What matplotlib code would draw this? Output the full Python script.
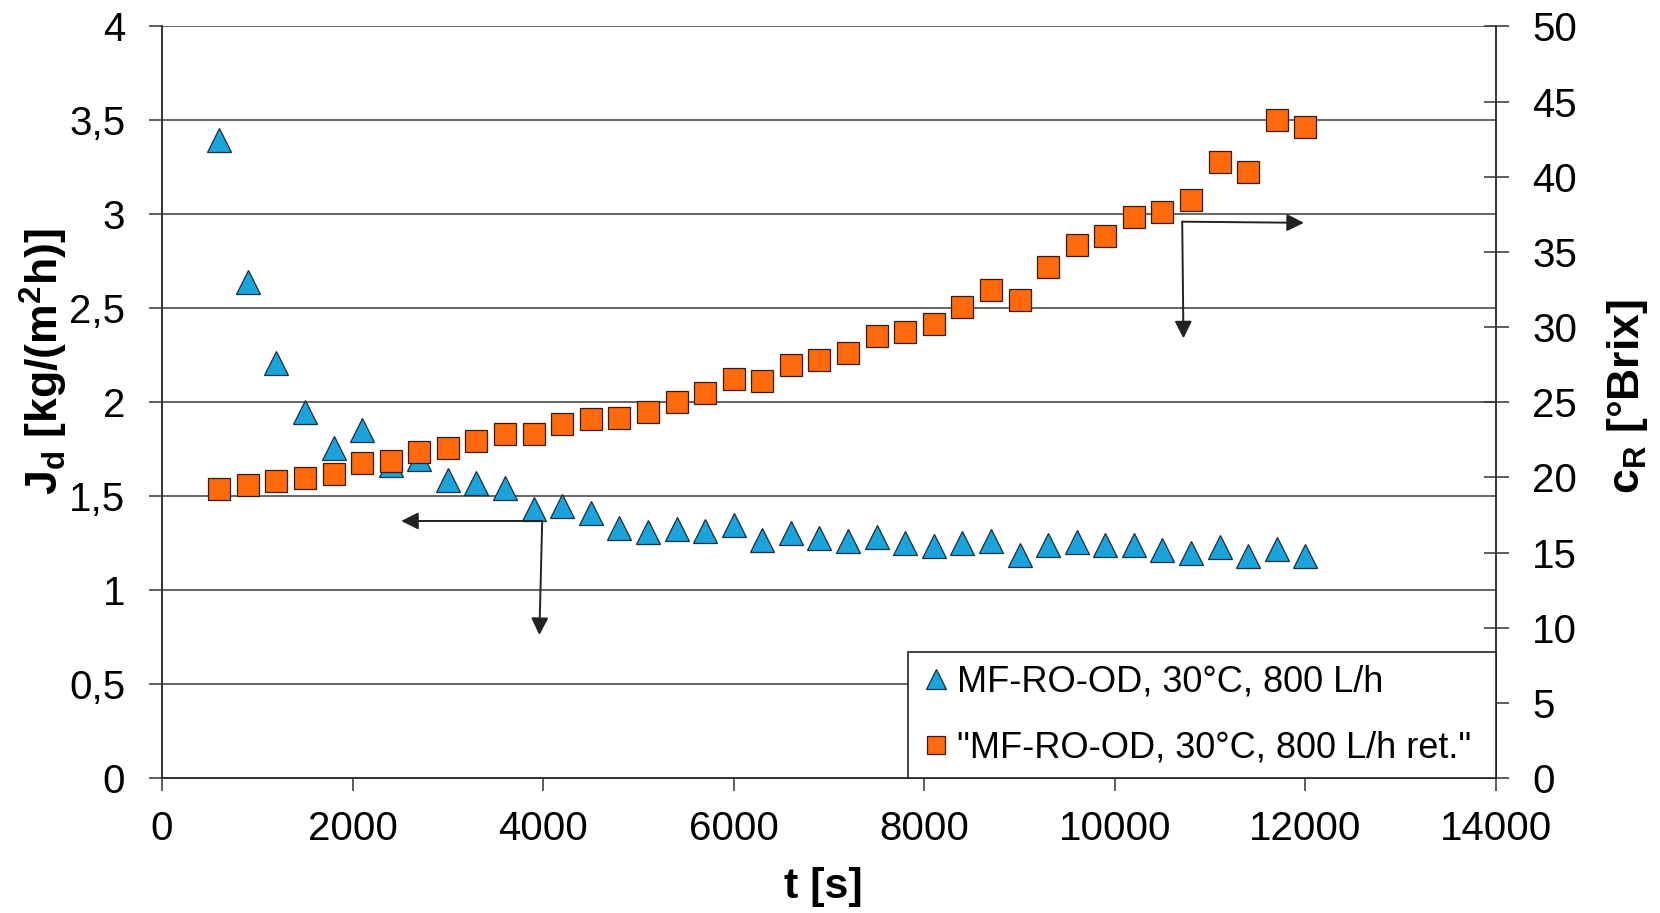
import matplotlib
matplotlib.use("Agg")
import matplotlib.pyplot as plt
from matplotlib.lines import Line2D
from matplotlib.ticker import FuncFormatter, MultipleLocator

plt.rcParams['font.family'] = ['Liberation Sans', 'DejaVu Sans']
plt.rcParams['mathtext.fontset'] = 'custom'
plt.rcParams['mathtext.rm'] = 'Liberation Sans:bold'
plt.rcParams['mathtext.it'] = 'Liberation Sans:bold'
plt.rcParams['mathtext.bf'] = 'Liberation Sans:bold'

# ---- data ----
time_s = [600, 900, 1200, 1500, 1800, 2100, 2400, 2700, 3000, 3300, 3600, 3900,
          4200, 4500, 4800, 5100, 5400, 5700, 6000, 6300, 6600, 6900, 7200, 7500,
          7800, 8100, 8400, 8700, 9000, 9300, 9600, 9900, 10200, 10500, 10800,
          11100, 11400, 11700, 12000]
flux_Jd = [3.394, 2.638, 2.207, 1.946, 1.756, 1.852, 1.668, 1.698, 1.586, 1.568,
           1.545, 1.432, 1.448, 1.412, 1.329, 1.311, 1.325, 1.315, 1.347, 1.269,
           1.302, 1.277, 1.260, 1.283, 1.252, 1.233, 1.249, 1.260, 1.185, 1.240,
           1.254, 1.238, 1.240, 1.214, 1.199, 1.230, 1.183, 1.221, 1.183]
brix_cR = [19.21, 19.47, 19.74, 19.98, 20.23, 20.94, 21.09, 21.71, 21.96, 22.40,
           22.89, 22.91, 23.57, 23.91, 23.93, 24.37, 25.04, 25.64, 26.55, 26.44,
           27.46, 27.83, 28.26, 29.39, 29.70, 30.21, 31.32, 32.45, 31.78, 34.00,
           35.46, 36.08, 37.35, 37.68, 38.43, 40.96, 40.32, 43.76, 43.31]

label_flux = "MF-RO-OD, 30°C, 800 L/h"
label_brix = '"MF-RO-OD, 30°C, 800 L/h ret."'

x_ticks = [0, 2000, 4000, 6000, 8000, 10000, 12000, 14000]
left_ticks = [0, 0.5, 1, 1.5, 2, 2.5, 3, 3.5, 4]
right_ticks = [0, 5, 10, 15, 20, 25, 30, 35, 40, 45, 50]

# annotation arrows (in left-axis data units): start point, horizontal tip, vertical tip
arrow1_start = (3990, 1.368)
arrow1_htip = (2510, 1.368)
arrow1_vtip = (3960, 0.761)
arrow2_start = (10707, 2.961)
arrow2_htip = (11984, 2.955)
arrow2_vtip = (10720, 2.340)

# ---- style ----
c_tri = '#1BA3DB'
c_tri_edge = '#15303F'
c_sq = '#FF6A0D'
c_sq_edge = '#3A1A0A'
axis_col = '#333333'

fig = plt.figure(figsize=(16.6, 9.13), dpi=100)
ax = fig.add_axes([0.0976, 0.1479, 0.8036, 0.8231])
ax2 = ax.twinx()

ax.set_xlim(0, 14000)
ax.set_ylim(0, 4)
ax2.set_ylim(0, 50)

ax.set_xticks(x_ticks)
ax.set_yticks(left_ticks)
ax2.set_yticks(right_ticks)

def comma_fmt(v, pos):
    s = ('%g' % v)
    return s.replace('.', ',')

ax.yaxis.set_major_formatter(FuncFormatter(comma_fmt))
ax.xaxis.set_major_formatter(FuncFormatter(lambda v, p: '%d' % v))

ax.yaxis.grid(True, color='#3a3a3a', lw=1.1, zorder=0)
ax.set_axisbelow(True)

for a in (ax, ax2):
    a.spines['top'].set_visible(False)
    for s in ('left', 'right', 'bottom'):
        a.spines[s].set_color(axis_col)
        a.spines[s].set_linewidth(1.2)

ax.tick_params(axis='x', direction='out', length=9.1, width=1.1, color=axis_col,
               labelsize=29, pad=14)
ax.tick_params(axis='y', direction='out', length=9.5, width=1.1, color=axis_col,
               labelsize=29, pad=17)
ax2.tick_params(axis='y', direction='inout', length=18, width=1.1, color=axis_col,
                labelsize=29, pad=17)

# data
ax.plot(time_s, flux_Jd, linestyle='none', marker='^', ms=17.5,
        mfc=c_tri, mec=c_tri_edge, mew=0.9, zorder=3, clip_on=False)
ax2.plot(time_s, brix_cR, linestyle='none', marker='s', ms=15.2,
         mfc=c_sq, mec=c_sq_edge, mew=0.9, zorder=3, clip_on=False)

# arrows
aprops = dict(arrowstyle='-|>', mutation_scale=26, lw=1.4, color='#222222',
              shrinkA=0, shrinkB=0)
for start, tip in [(arrow1_start, arrow1_htip), (arrow1_start, arrow1_vtip),
                   (arrow2_start, arrow2_htip), (arrow2_start, arrow2_vtip)]:
    ax.annotate('', xy=tip, xytext=start, xycoords='data', textcoords='data',
                arrowprops=aprops, zorder=4)

# labels
fig.text(823 / 1660, 1 - 887 / 913, 't [s]', fontsize=31, fontweight='bold',
         ha='center', va='center')
fig.text(44 / 1660, 1 - 362 / 913, r'J$_{\mathrm{d}}$ [kg/(m$^{\mathrm{2}}$h)]',
         fontsize=32, fontweight='bold', rotation=90, ha='center', va='center')
fig.text(1627 / 1660, 1 - 397 / 913, r'c$_{\mathrm{R}}$ [°Brix]',
         fontsize=32, fontweight='bold', rotation=90, ha='center', va='center')

# legend
h1 = Line2D([], [], linestyle='none', marker='^', ms=15, mfc=c_tri, mec=c_tri_edge, mew=0.9)
h2 = Line2D([], [], linestyle='none', marker='s', ms=13.5, mfc=c_sq, mec=c_sq_edge, mew=0.9)
leg = ax2.legend([h1, h2], [label_flux, label_brix], loc='lower left',
                 bbox_to_anchor=(0.559, 0.0, 0.441, 0.19), mode='expand',
                 borderaxespad=0, fontsize=26, frameon=True, fancybox=False,
                 edgecolor='#222222', framealpha=1, borderpad=0.35,
                 labelspacing=0.86, handlelength=0.86, handletextpad=0.15)
leg.get_frame().set_linewidth(1.2)
leg.set_zorder(10)

fig.savefig('out.png', dpi=100)
